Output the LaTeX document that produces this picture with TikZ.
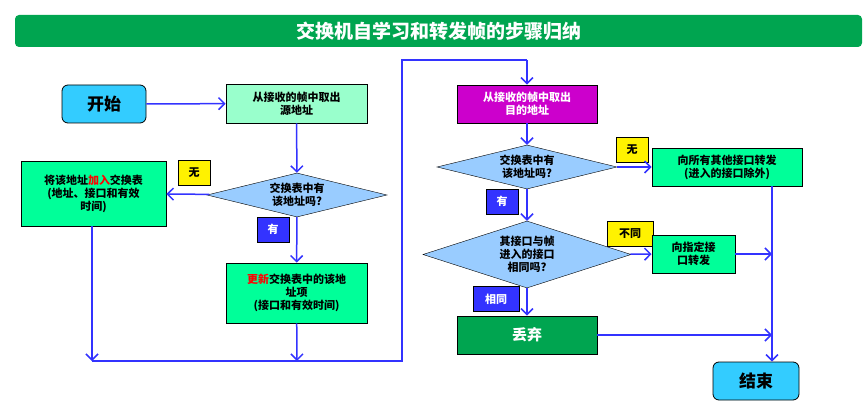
\documentclass[tikz,border=0pt]{standalone}
\usepackage{fontspec}
\setmainfont{Noto Sans CJK SC}
\usetikzlibrary{arrows.meta,shapes.geometric}
\definecolor{lineblue}{HTML}{3333FF}
\definecolor{startcyan}{HTML}{33CCFF}
\definecolor{mint}{HTML}{99FFCC}
\definecolor{boxgreen}{HTML}{00FF99}
\definecolor{darkgreen}{HTML}{00A550}
\definecolor{purple}{HTML}{CC00CC}
\definecolor{diafill}{HTML}{99CCFF}
\tikzset{
 box/.style={draw=black, thick, align=center, font=\bfseries\fontsize{11}{13}\selectfont, inner sep=0pt},
 term/.style={box, rounded corners=6pt, fill=startcyan, minimum width=84pt, minimum height=38pt, font=\bfseries\fontsize{17}{19}\selectfont},
 dia/.style={diamond, aspect=4.2, draw=black, fill=diafill, align=center, inner sep=0pt, font=\bfseries\fontsize{11}{13}\selectfont},
 tag/.style={draw=black, thin, minimum width=32pt, minimum height=25pt, inner sep=0pt, font=\bfseries\fontsize{11}{13}\selectfont},
 yes/.style={tag, fill=lineblue, text=white},
 no/.style={tag, fill=yellow},
 flow/.style={draw=lineblue, line width=1.5pt, -{Straight Barb[length=6pt,width=12pt]}},
 line/.style={draw=lineblue, line width=1.5pt}
}
\begin{document}
\begin{tikzpicture}[x=1pt,y=-1pt]
\useasboundingbox (0,0) rectangle (868,409);
% title
\node[fill=darkgreen, rounded corners=4pt, minimum width=847pt, minimum height=32pt, text=white, font=\bfseries\fontsize{19}{21}\selectfont] (title) at (438.5,31) {交换机自学习和转发帧的步骤归纳};
% left column
\node[term] (start) at (104,104) {开始};
\node[box, fill=mint, minimum width=141pt, minimum height=39pt] (src) at (296.5,103.5) {从接收的帧中取出\\源地址};
\node[dia, minimum width=180pt, minimum height=44pt] (dec1) at (297,195) {交换表中有\\该地址吗?};
\node[box, fill=boxgreen, minimum width=145pt, minimum height=65pt] (add) at (93.5,193.5) {将该地址\textcolor{red}{加入}交换表\\(地址、接口和有效\\时间)};
\node[no] (no1) at (194,172.5) {无};
\node[yes] (yes1) at (273,229.5) {有};
\node[box, fill=boxgreen, minimum width=141pt, minimum height=60pt] (upd) at (296.5,293) {\textcolor{red}{更新}交换表中的该地\\址项\\(接口和有效时间)};
\coordinate (b1) at (92,361);
\coordinate (b2) at (297,361);
\coordinate (b3) at (402,361);
\coordinate (t1) at (402,60);
\coordinate (t2) at (527,60);
% right column
\node[box, fill=purple, text=white, minimum width=140pt, minimum height=38pt] (dst) at (527,104) {从接收的帧中取出\\目的地址};
\node[dia, minimum width=180pt, minimum height=44pt] (dec2) at (527,167) {交换表中有\\该地址吗?};
\node[no] (no2) at (632,150) {无};
\node[box, fill=boxgreen, minimum width=150pt, minimum height=38pt] (all) at (727,167) {向所有其他接口转发\\(进入的接口除外)};
\node[yes] (yes2) at (502,201.5) {有};
\node[dia, minimum width=180pt, minimum height=67pt] (dec3) at (527,254.5) {其接口与帧\\进入的接口\\相同吗?};
\node[no, minimum width=46pt] (diff) at (630,233.5) {不同};
\node[box, fill=boxgreen, minimum width=83pt, minimum height=38pt] (spec) at (693.5,254) {向指定接\\口转发};
\node[yes, minimum width=46pt] (same) at (496,299) {相同};
\node[box, fill=darkgreen, text=white, minimum width=140pt, minimum height=38pt, font=\bfseries\fontsize{15}{17}\selectfont] (drop) at (527,335) {丢弃};
\node[term, minimum width=86pt] (end) at (756,381) {结束};
\coordinate (s1) at (772,254);
\coordinate (s2) at (772,335);
% connectors
\draw[flow] (start) -- (src);
\draw[flow] (src) -- (dec1);
\draw[flow] (dec1) -- (add);
\draw[flow] (dec1) -- (upd);
\draw[flow] (add.south -| b1) -- (b1);
\draw[flow] (upd) -- (b2);
\draw[line] (b1) -- (b3) -- (t1) -- (t2);
\draw[flow] (t2) -- (dst);
\draw[flow] (dst) -- (dec2);
\draw[flow] (dec2) -- (all);
\draw[flow] (dec2) -- (dec3);
\draw[flow] (dec3) -- (spec);
\draw[flow] (dec3) -- (drop);
\draw[flow] (spec) -- (s1);
\draw[flow] (drop) -- (s2);
\draw[flow] (all.south -| s1) -- (end.north -| s1);
\end{tikzpicture}
\end{document}
